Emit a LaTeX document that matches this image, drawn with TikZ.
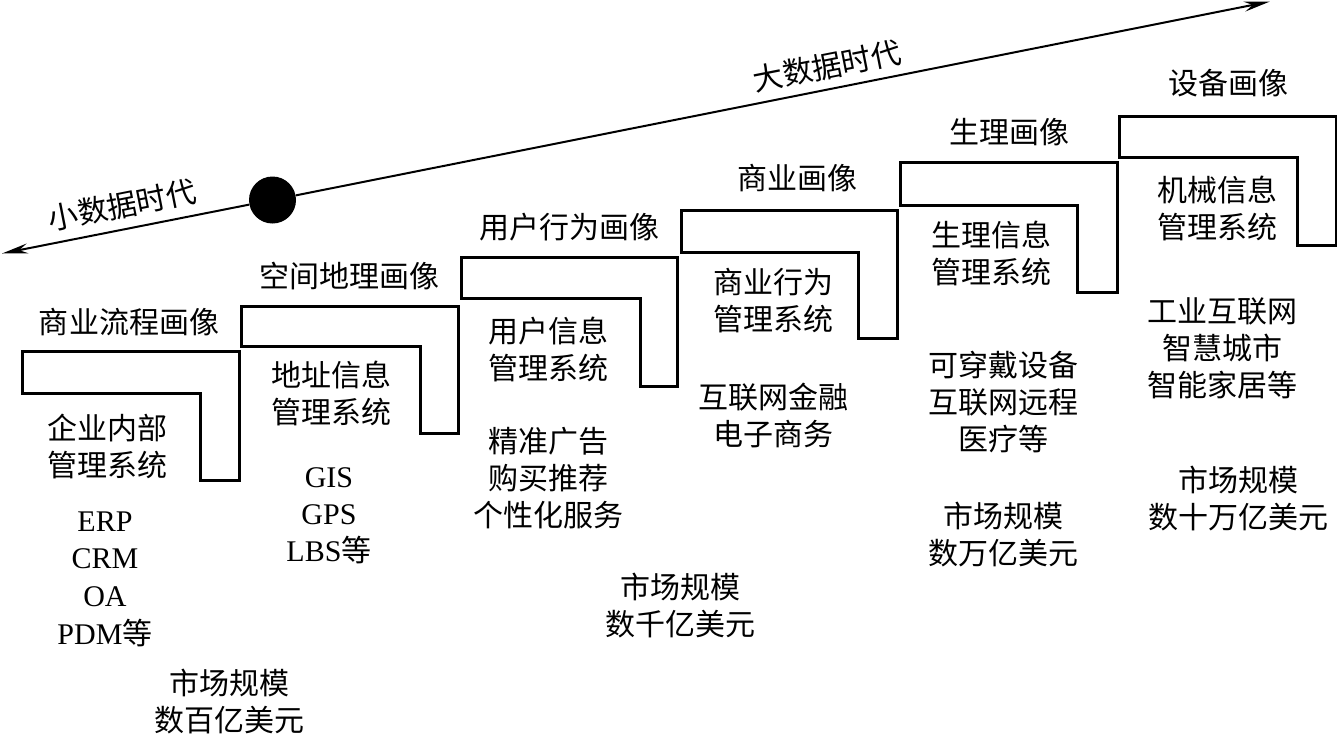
\documentclass[tikz,border=0pt]{standalone}
\usepackage{fontspec}
\setmainfont{Noto Sans CJK SC}
\newfontfamily\latf{Liberation Serif}
\usetikzlibrary{arrows.meta}
\begin{document}
\begin{tikzpicture}[x=0.5pt,y=-0.5pt,
  txt/.style={align=center,inner sep=0pt,font={\fontsize{15}{18.5}\selectfont}},
  lshape/.style={draw=black,line width=1.5pt,line join=miter},
  era/.style={draw=black,line width=1pt,-{Stealth[length=13pt,width=5pt]}},
  dotnode/.style={circle,fill=black,inner sep=0pt,minimum size=23.5pt}]
\useasboundingbox (0,0) rectangle (1337,735);
% timeline
\coordinate (L) at (2,253.5);
\coordinate (R) at (1270,1.5);
\node[dotnode] (dot) at (272.5,200) {};
\draw[era] (dot) -- (L);
\draw[era] (dot) -- (R);
\node[txt,rotate=11.2] (small) at (122,205) {小数据时代};
\node[txt,rotate=11.2] (big) at (827,66) {大数据时代};
% L shapes
\draw[lshape] (22,351) -- (239,351) -- (239,480) -- (200,480) -- (200,393) -- (22,393) -- cycle;
\draw[lshape] (241,306) -- (458,306) -- (458,433) -- (420,433) -- (420,346) -- (241,346) -- cycle;
\draw[lshape] (461,257) -- (677,257) -- (677,386) -- (640,386) -- (640,298) -- (461,298) -- cycle;
\draw[lshape] (681,210) -- (897,210) -- (897,338) -- (858,338) -- (858,252) -- (681,252) -- cycle;
\draw[lshape] (900,162) -- (1117,162) -- (1117,292) -- (1077,292) -- (1077,205) -- (900,205) -- cycle;
\draw[lshape] (1119,116) -- (1336,116) -- (1336,245) -- (1297,245) -- (1297,157) -- (1119,157) -- cycle;
% stage 1
\node[txt] (t1) at (129,322) {商业流程画像};
\node[txt] (s1) at (107,446) {企业内部\\管理系统};
\node[txt,font={\latf\fontsize{15}{18.8}\selectfont}] (a1) at (105,579) {ERP\\CRM\\OA\\PDM{\fontspec{Noto Sans CJK SC}等}};
\node[txt] (m1) at (229,702) {市场规模\\数百亿美元};
% stage 2
\node[txt] (t2) at (349,276) {空间地理画像};
\node[txt] (s2) at (331,393) {地址信息\\管理系统};
\node[txt,font={\latf\fontsize{15}{18.4}\selectfont}] (a2) at (329,516) {GIS\\GPS\\LBS{\fontspec{Noto Sans CJK SC}等}};
% stage 3
\node[txt] (t3) at (569,227) {用户行为画像};
\node[txt] (s3) at (548,349) {用户信息\\管理系统};
\node[txt] (a3) at (548,478) {精准广告\\购买推荐\\个性化服务};
\node[txt] (m3) at (680,606) {市场规模\\数千亿美元};
% stage 4
\node[txt] (t4) at (797,178) {商业画像};
\node[txt] (s4) at (773,301) {商业行为\\管理系统};
\node[txt] (a4) at (773,415) {互联网金融\\电子商务};
% stage 5
\node[txt] (t5) at (1009,132) {生理画像};
\node[txt] (s5) at (991,253) {生理信息\\管理系统};
\node[txt] (a5) at (1003,402) {可穿戴设备\\互联网远程\\医疗等};
\node[txt] (m5) at (1003,535) {市场规模\\数万亿美元};
% stage 6
\node[txt] (t6) at (1228,83) {设备画像};
\node[txt] (s6) at (1217,208) {机械信息\\管理系统};
\node[txt] (a6) at (1222,348) {工业互联网\\智慧城市\\智能家居等};
\node[txt] (m6) at (1238,499) {市场规模\\数十万亿美元};
\end{tikzpicture}
\end{document}
